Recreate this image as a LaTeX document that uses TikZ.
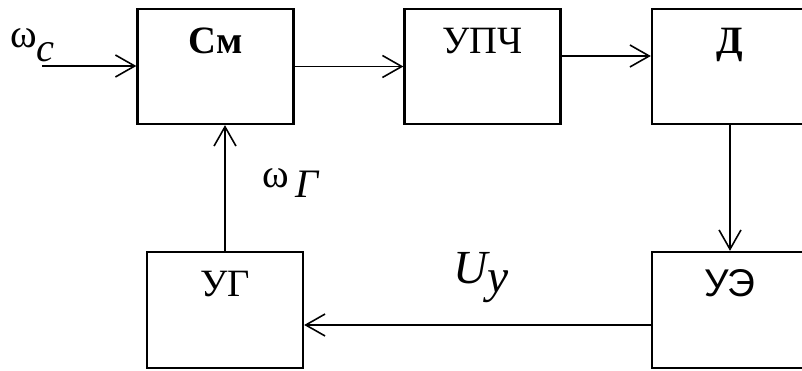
\documentclass[tikz,border=0pt]{standalone}
\usepackage{fontspec}
\setmainfont{Liberation Serif}
\newfontfamily\uefont{Liberation Sans}
\usetikzlibrary{positioning,arrows.meta}

\begin{document}
\begin{tikzpicture}[
  blk/.style={draw,line width=1.3pt,minimum width=3.12cm,minimum height=2.3cm},
  tag/.style={anchor=base,yshift=-0.92cm,inner sep=0pt,font=\fontsize{22}{24}\selectfont},
  sig/.style={line width=0.9pt,-{Straight Barb[length=11pt,width=12.5pt]}},
  lbl/.style={anchor=base west,inner sep=0pt,font=\fontsize{23}{25}\selectfont}
]
\useasboundingbox (0,0) rectangle (16.04,-7.42);
\clip (0,0) rectangle (16.04,-7.42);

% blocks
\node[blk,label={[tag,font=\fontsize{22}{24}\selectfont\bfseries]north:См}] (sm) at (4.31,-1.33) {};
\node[blk,label={[tag]north:УПЧ}] (upch) at (9.65,-1.33) {};
\node[blk,label={[tag,font=\fontsize{22}{24}\selectfont\bfseries]north:Д}] (d) at (14.6,-1.33) {};
\node[blk,minimum height=2.32cm,label={[tag,font=\fontsize{22}{24}\uefont]north:УЭ}] (ue) at (14.6,-6.2) {};
\node[blk,minimum height=2.32cm,label={[tag]north:УГ}] (ug) at (4.5,-6.2) {};

% signals
\coordinate (win) at (0.84,-1.32);
\node[lbl] (wc) at (0.2,-0.96) {ω\raisebox{-0.28cm}{\itshape c}};
\node[lbl] (wg) at (5.24,-3.76) {ω\,\raisebox{-0.2cm}{\itshape Г}};
\node[lbl,font=\fontsize{27}{29}\selectfont] (uy) at (9.06,-5.66) {\itshape U\raisebox{-0.2cm}{у}};

\draw[sig] (win) -- (win -| sm.west);
\draw[sig] (sm.east) -- (upch.west);
\draw[sig] ([yshift=0.21cm]upch.east) -- ([yshift=0.21cm]d.west);
\draw[sig] (d.south) -- (ue.north);
\draw[sig] ([yshift=-0.3cm]ue.west) -- ([yshift=-0.3cm]ug.east);
\draw[sig] (ug.north) -- (ug.north |- sm.south);
\end{tikzpicture}
\end{document}
